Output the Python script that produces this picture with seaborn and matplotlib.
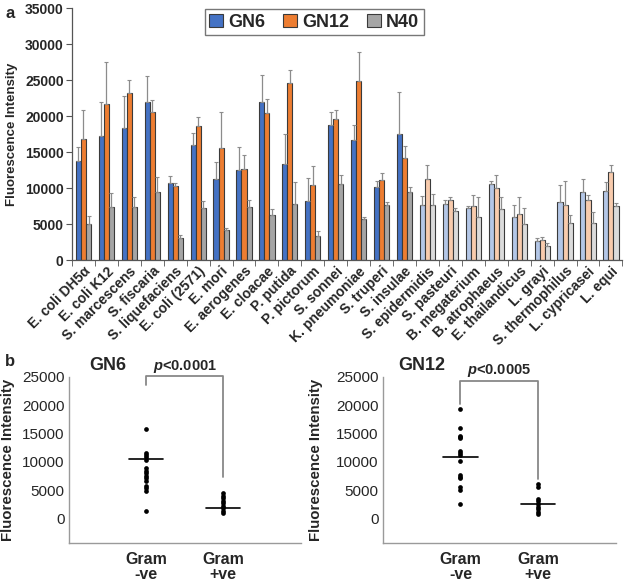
import numpy as np
import pandas as pd
import matplotlib
matplotlib.use("Agg")
import matplotlib.pyplot as plt
import matplotlib.transforms as mtransforms
import seaborn as sns
from matplotlib.patches import Patch

# ---------------- data ----------------
species = ["E. coli DH5α", "E. coli K12", "S. marcescens", "S. fiscaria", "S. liquefaciens",
           "E. coli (2571)", "E. mori", "E. aerogenes", "E. cloacae", "P. putida",
           "P. pictorum", "S. sonnei", "K. pneumoniae", "S. truperi", "S. insulae",
           "S. epidermidis", "S. pasteuri", "B. megaterium", "B. atrophaeus", "E. thailandicus",
           "L. grayi", "S. thermophilus", "L. cypricasei", "L. equi"]
gram_positive = [False] * 15 + [True] * 9

series = ["GN6", "GN12", "N40"]
gn6 = [13700, 17200, 18300, 22000, 10700, 16000, 11200, 12500, 21900, 13300, 8200, 18700,
       16700, 10100, 17450, 7650, 7730, 7200, 10560, 5970, 2600, 8000, 9400, 9550]
gn6_err = [1950, 4700, 4500, 3500, 1000, 1600, 2350, 3200, 3750, 4200, 3150, 1900,
           2000, 850, 5950, 1300, 600, 250, 410, 1600, 410, 2370, 1800, 1240]
gn12 = [16850, 21650, 23200, 20550, 10280, 18560, 15550, 12600, 20400, 24550, 10420, 19650,
        24870, 11100, 14120, 11200, 8280, 7450, 9950, 6340, 2780, 7590, 8330, 12220]
gn12_err = [3950, 5900, 1800, 1650, 410, 1250, 5050, 1980, 1910, 1890, 2640, 1150,
            3970, 1030, 1760, 1950, 420, 1580, 1900, 2360, 370, 3430, 650, 930]
n40 = [4950, 7370, 7300, 9400, 3100, 7270, 4170, 7410, 6250, 7780, 3290, 10560,
       5690, 7640, 9490, 7590, 6760, 5930, 7130, 5050, 1940, 5190, 5190, 7450]
n40_err = [1220, 1880, 1500, 2080, 370, 970, 320, 880, 790, 3100, 740, 1200,
           330, 420, 600, 1530, 410, 2820, 1620, 2220, 370, 1060, 1520, 420]
y_ticks_top = [0, 5000, 10000, 15000, 20000, 25000, 30000, 35000]

groups = ["Gram\n-ve", "Gram\n+ve"]
gn6_neg = [15710, 11590, 11180, 10770, 10300, 8830, 8350, 7940, 7470, 7060, 6640, 5700, 5300, 4870, 1340]
gn6_pos = [4410, 3940, 3530, 3110, 2650, 2230, 1770, 1340, 880]
gn12_neg = [19280, 15950, 14600, 14300, 14130, 11970, 11500, 11100, 10100, 7590, 7350, 7120, 5540, 4960, 2510]
gn12_pos = [6010, 5540, 3500, 3030, 2510, 2030, 1580, 1050, 700]
gn6_centre = [10470, 1770]
gn12_centre = [10800, 2510]
gn6_bracket = [23570, 25100, 7240]
gn12_bracket = [20160, 24260, 7010]
y_ticks_bottom = [0, 5000, 10000, 15000, 20000, 25000]

# ---------------- style ----------------
sns.set_style("white")
plt.rcParams["font.family"] = ["Liberation Sans", "DejaVu Sans"]
plt.rcParams["mathtext.fontset"] = "custom"
plt.rcParams["mathtext.bfit"] = "Liberation Sans:italic:bold"
plt.rcParams["mathtext.rm"] = "Liberation Sans:bold"

dark_cols = ["#4472C4", "#ED7D31", "#A5A5A5"]
light_cols = ["#B4C7E7", "#F8CBAD", "#DBDBDB"]
edge = "#3a3a3a"

fig = plt.figure(figsize=(6.24, 5.82), dpi=100)

# ---------------- panel a ----------------
ax = fig.add_axes([72 / 624, 1 - 260 / 582, 550.4 / 624, 252 / 582])
errs = {"GN6": gn6_err, "GN12": gn12_err, "N40": n40_err}
df = pd.DataFrame({
    "species": np.repeat([species], 3, axis=0).ravel(),
    "series": np.repeat(series, len(species)),
    "value": gn6 + gn12 + n40,
})
sns.barplot(data=df, x="species", y="value", hue="series", order=species, hue_order=series,
            palette=dark_cols, width=0.66, edgecolor=edge, linewidth=0.8, ax=ax, legend=False,
            errorbar=None, saturation=1)

bars = [p for p in ax.patches]
n = len(species)
for si, s in enumerate(series):
    for ci in range(n):
        p = bars[si * n + ci]
        if gram_positive[ci]:
            p.set_facecolor(light_cols[si])
        cx = p.get_x() + p.get_width() / 2
        ax.errorbar(cx, p.get_height(), yerr=[[0], [errs[s][ci]]], fmt="none",
                    ecolor="#8c8c8c", elinewidth=0.9, capsize=1.6, capthick=0.8, zorder=1)

ax.set_xlim(-0.5, n - 0.5)
ax.set_ylim(0, 35000)
ax.set_yticks(y_ticks_top)
ax.set_yticklabels([str(v) for v in y_ticks_top], fontsize=10, fontweight="bold")
ax.set_xticks(range(n))
ax.set_xticklabels(species, rotation=45, ha="right", va="top", rotation_mode="anchor",
                   fontsize=10, fontweight="bold")
shift = mtransforms.ScaledTranslation(5 / 100, 0, fig.dpi_scale_trans)
for lbl in ax.get_xticklabels():
    lbl.set_transform(lbl.get_transform() + shift)
ax.tick_params(axis="x", length=0, pad=3)
ax.set_xticks(np.arange(-0.5, n, 1.0), minor=True)
ax.tick_params(axis="x", which="minor", length=4, direction="out", color="#555555", bottom=True)
ax.tick_params(axis="y", length=4, direction="out", color="#555555", left=True, pad=2)
ax.set_xlabel("")
ax.set_ylabel("Fluorescence Intensity", fontsize=9.5, fontweight="bold")
ax.yaxis.set_label_coords(-0.099, 0.5)
for side in ["top", "right"]:
    ax.spines[side].set_visible(False)
for side in ["left", "bottom"]:
    ax.spines[side].set_color("#555555")
    ax.spines[side].set_linewidth(0.9)

handles = [Patch(facecolor=c, edgecolor=edge, linewidth=0.8) for c in dark_cols]
leg = ax.legend(handles, series, loc="upper center", bbox_to_anchor=(0.44, 1.03), ncol=3,
                frameon=True, fancybox=False, handlelength=0.75, handleheight=0.75,
                handletextpad=0.3, columnspacing=1.0, borderpad=0.25,
                prop={"weight": "bold", "size": 13})
leg.get_frame().set_edgecolor("#555555")
leg.get_frame().set_linewidth(1.0)

fig.text(10 / 624, 1 - 13 / 582, "a", fontsize=12, fontweight="bold", ha="center", va="center")

# ---------------- panel b ----------------
def scatter_panel(rect, neg, pos, centre, bracket, title, ptxt, ylabel_x):
    bx = fig.add_axes(rect)
    d = pd.DataFrame({"group": [groups[0]] * len(neg) + [groups[1]] * len(pos),
                      "value": neg + pos})
    sns.stripplot(data=d, x="group", y="value", order=groups, jitter=False, color="black",
                  size=3.4, ax=bx, zorder=3)
    for i, c in enumerate(centre):
        bx.plot([i - 0.22, i + 0.22], [c, c], color="black", lw=1.2, zorder=4)
    bx.plot([0, 0, 1, 1], [bracket[0], bracket[1], bracket[1], bracket[2]],
            color="#888888", lw=1.3, clip_on=False)
    bx.text(0.5, bracket[1] + 250, ptxt, ha="center", va="bottom", fontsize=10.5,
            fontweight="bold")
    bx.text(-0.5, 27000, title, ha="center", va="center", fontsize=13, fontweight="bold")
    bx.set_xlim(-1, 2)
    bx.set_ylim(-4400, 25000)
    bx.set_yticks(y_ticks_bottom)
    bx.set_yticklabels([str(v) for v in y_ticks_bottom], fontsize=11)
    bx.set_xticks([0, 1])
    bx.set_xticklabels(groups, fontsize=11.5, fontweight="bold", linespacing=1.05)
    bx.tick_params(axis="both", length=0)
    bx.tick_params(axis="y", pad=3)
    bx.tick_params(axis="x", pad=6)
    bx.set_xlabel("")
    bx.set_ylabel("Fluorescence Intensity", fontsize=10.8, fontweight="bold")
    bx.yaxis.set_label_coords(ylabel_x, 0.5)
    for side in ["top", "right"]:
        bx.spines[side].set_visible(False)
    for side in ["left", "bottom"]:
        bx.spines[side].set_color("#9a9a9a")
        bx.spines[side].set_linewidth(1.0)
    return bx

scatter_panel([68.7 / 624, 1 - 543.3 / 582, 231.9 / 624, 166.6 / 582],
              gn6_neg, gn6_pos, gn6_centre, gn6_bracket, "GN6",
              r"$\mathbfit{p}$<0.0001", -0.232)
scatter_panel([382.7 / 624, 1 - 543.3 / 582, 233.3 / 624, 166.6 / 582],
              gn12_neg, gn12_pos, gn12_centre, gn12_bracket, "GN12",
              r"$\mathbfit{p}$<0.0005", -0.255)

fig.text(10 / 624, 1 - 361.7 / 582, "b", fontsize=12, fontweight="bold", ha="center", va="center")

fig.savefig("out.png", dpi=100)
